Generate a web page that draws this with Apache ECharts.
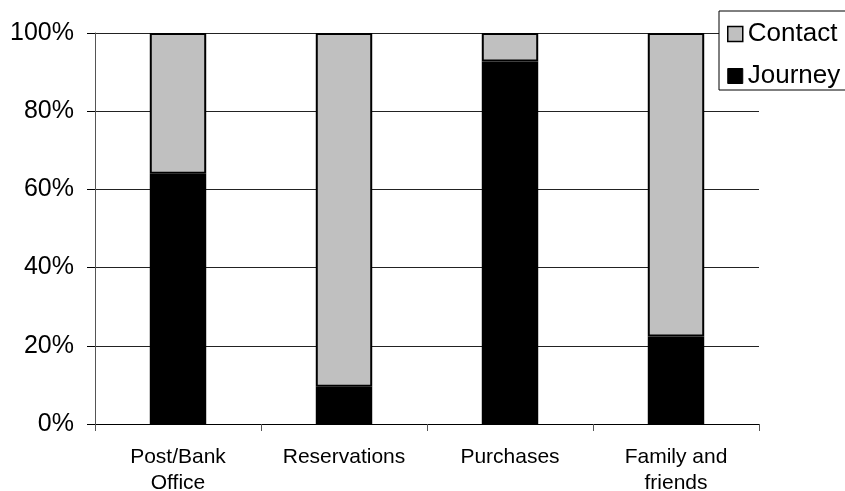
<!DOCTYPE html>
<html>
<head>
<meta charset="utf-8">
<script src="https://cdn.jsdelivr.net/npm/echarts@6/dist/echarts.min.js"></script>
<style>
  html, body { margin: 0; padding: 0; background: #fff; }
  #chart { width: 845px; height: 491px; }
</style>
</head>
<body>
<div id="chart"></div>
<script>
// Share of each activity type, split into journey and contact (percent)
const categories = ['Post/Bank\nOffice', 'Reservations', 'Purchases', 'Family and\nfriends'];
const journey = [64.0, 9.5, 92.7, 22.4];
const contact = [36.0, 90.5, 7.3, 77.6];
const yTicks = [0, 20, 40, 60, 80, 100];

const FONT = '"Liberation Sans", Arial, sans-serif';

const chart = echarts.init(document.getElementById('chart'), null, { renderer: 'canvas' });

chart.setOption({
  animation: false,
  backgroundColor: '#ffffff',
  textStyle: { fontFamily: FONT, color: '#000' },
  grid: { left: 95, right: 86, top: 33, bottom: 67, containLabel: false, outerBoundsMode: 'none' },
  legend: {
    data: [
      { name: 'Contact', icon: 'rect', itemStyle: { color: '#c0c0c0', borderColor: '#000', borderWidth: 1.5 } },
      { name: 'Journey', icon: 'rect', itemStyle: { color: '#000', borderColor: '#000', borderWidth: 1 } }
    ],
    orient: 'vertical',
    left: 719,
    top: 11,
    padding: [10, 20, 1, 8],
    itemWidth: 15,
    itemHeight: 15,
    itemGap: 16,
    borderColor: '#000',
    borderWidth: 1,
    backgroundColor: '#fff',
    textStyle: { fontSize: 26, fontFamily: FONT, color: '#000', lineHeight: 26 }
  },
  xAxis: {
    type: 'category',
    data: categories,
    axisLine: { show: true, lineStyle: { color: '#000', width: 1 } },
    axisTick: { show: true, alignWithLabel: false, length: 7, lineStyle: { color: '#555' } },
    axisLabel: { fontSize: 21, fontFamily: FONT, color: '#000', margin: 20, lineHeight: 26 },
    splitLine: { show: false }
  },
  yAxis: {
    type: 'value',
    min: 0,
    max: 100,
    interval: 20,
    axisLine: { show: true, lineStyle: { color: '#555', width: 1 } },
    axisTick: { show: true, inside: false, length: 8, lineStyle: { color: '#000' } },
    axisLabel: {
      fontSize: 25,
      fontFamily: FONT,
      color: '#000',
      margin: 21,
      formatter: v => (yTicks.includes(v) ? v + '%' : '')
    },
    splitLine: { show: true, lineStyle: { color: '#222', width: 1 } }
  },
  series: [
    {
      name: 'Journey',
      type: 'bar',
      stack: 'total',
      data: journey,
      barWidth: '34%',
      itemStyle: { color: '#000', borderColor: '#000', borderWidth: 1.5 }
    },
    {
      name: 'Contact',
      type: 'bar',
      stack: 'total',
      data: contact,
      barWidth: '34%',
      itemStyle: { color: '#c0c0c0', borderColor: '#000', borderWidth: 2 }
    }
  ]
});
</script>
</body>
</html>
